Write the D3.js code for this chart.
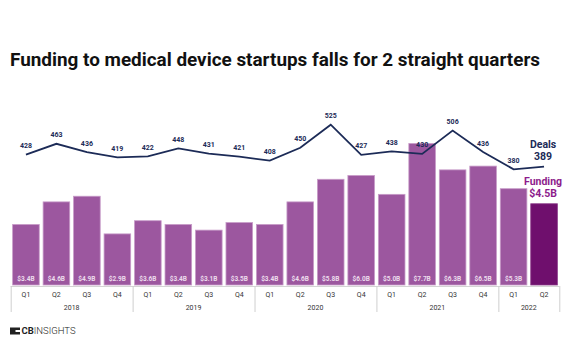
<!DOCTYPE html>
<html>
<head>
<meta charset="utf-8">
<script src="https://cdn.jsdelivr.net/npm/d3@7"></script>
<style>
  body { margin: 0; background: #fff; }
  svg { font-family: Roboto, "Noto Sans", sans-serif; }
</style>
</head>
<body>
<div id="chart"></div>
<script>
var svgWidth = 572;
var svgHeight = 364;

// data
var quarters = ["Q1","Q2","Q3","Q4","Q1","Q2","Q3","Q4","Q1","Q2","Q3","Q4","Q1","Q2","Q3","Q4","Q1","Q2"];
var years = ["2018","2019","2020","2021","2022"];
var yearSizes = [4, 4, 4, 4, 2];
var funding = [3.4, 4.6, 4.9, 2.9, 3.6, 3.4, 3.1, 3.5, 3.4, 4.6, 5.8, 6.0, 5.0, 7.7, 6.3, 6.5, 5.3, 4.5];
var deals = [428, 463, 436, 419, 422, 448, 431, 421, 408, 450, 525, 427, 438, 430, 506, 436, 380, 389];

var barColor = "#9c579f";
var lastColor = "#6f0f6d";
var lineColor = "#1c2b57";
var baseline = 285;

var svg = d3.select("#chart")
  .append("svg")
  .attr("width", svgWidth)
  .attr("height", svgHeight);

// title
svg.append("text")
  .attr("x", 10)
  .attr("y", 66)
  .style("font-size", "18.9px")
  .style("font-weight", "bold")
  .attr("fill", "#111")
  .text("Funding to medical device startups falls for 2 straight quarters");

var idx = d3.range(funding.length);

var x = d3.scaleBand()
  .domain(idx)
  .range([10.7, 559.3])
  .paddingInner(0.127)
  .paddingOuter(0.0635);

var yFund = d3.scaleLinear().domain([0, 8]).range([288.5, 288.5 - 8 * 18.83]);
var yDeals = d3.scaleLinear().domain([0, 600]).range([286.2, 286.2 - 600 * 0.3076]);

// bars
svg.append("g").selectAll("rect")
  .data(funding)
  .enter()
  .append("rect")
  .attr("x", (d, i) => x(i))
  .attr("y", d => yFund(d))
  .attr("width", x.bandwidth())
  .attr("height", d => baseline - yFund(d))
  .attr("fill", (d, i) => i == funding.length - 1 ? lastColor : barColor)
  .attr("stroke", (d, i) => i == funding.length - 1 ? "#8a3a88" : "#c79bc8")
  .attr("stroke-width", 0.8);

// value labels inside bars (not on the last one)
svg.append("g").selectAll("text")
  .data(funding.slice(0, -1))
  .enter()
  .append("text")
  .attr("x", (d, i) => x(i) + x.bandwidth() / 2)
  .attr("y", 281)
  .attr("text-anchor", "middle")
  .style("font-size", "6.5px")
  .style("font-weight", "bold")
  .attr("fill", "#ecdcec")
  .text(d => "$" + d.toFixed(1) + "B");

// deals line
var line = d3.line()
  .x((d, i) => x(i) + x.bandwidth() / 2)
  .y(d => yDeals(d));

svg.append("path")
  .datum(deals)
  .attr("d", line)
  .attr("fill", "none")
  .attr("stroke", lineColor)
  .attr("stroke-width", 1.8);

svg.append("g").selectAll("text")
  .data(deals.slice(0, -1))
  .enter()
  .append("text")
  .attr("x", (d, i) => x(i) + x.bandwidth() / 2)
  .attr("y", d => yDeals(d) - 9)
  .attr("dy", "0.35em")
  .attr("text-anchor", "middle")
  .style("font-size", "7px")
  .style("font-weight", "bold")
  .attr("fill", lineColor)
  .text(d => d);

// end labels
var last = funding.length - 1;
var lx = x(last) + x.bandwidth() / 2 - 1;
var endLabels = [
  {t: "Deals", y: 144, c: lineColor},
  {t: String(deals[last]), y: 156, c: lineColor},
  {t: "Funding", y: 181, c: "#8d1c8c"},
  {t: "$" + funding[last].toFixed(1) + "B", y: 193, c: "#8d1c8c"}
];
svg.append("g").selectAll("text")
  .data(endLabels)
  .enter()
  .append("text")
  .attr("x", lx)
  .attr("y", d => d.y)
  .attr("dy", "0.35em")
  .attr("text-anchor", "middle")
  .style("font-size", "10.5px")
  .style("font-weight", "bold")
  .attr("fill", d => d.c)
  .text(d => d.t);

// category axis: quarters + years
var axisG = svg.append("g");
axisG.append("line")
  .attr("x1", x.range()[0]).attr("x2", x.range()[1])
  .attr("y1", 286.5).attr("y2", 286.5)
  .attr("stroke", "#d4d4d4");

axisG.selectAll(".q")
  .data(quarters)
  .enter()
  .append("text")
  .attr("x", (d, i) => x(i) + x.bandwidth() / 2)
  .attr("y", 294.5)
  .attr("dy", "0.35em")
  .attr("text-anchor", "middle")
  .style("font-size", "7px")
  .attr("fill", "#333")
  .text(d => d);

var starts = [0];
yearSizes.forEach((n, i) => starts.push(starts[i] + n));
var step = x.step();
var x0 = x.range()[0];

axisG.selectAll(".sep")
  .data(starts)
  .enter()
  .append("line")
  .attr("x1", d => x0 + d * step + 0.5)
  .attr("x2", d => x0 + d * step + 0.5)
  .attr("y1", 286)
  .attr("y2", 312)
  .attr("stroke", "#cfcfcf");

axisG.selectAll(".yr")
  .data(years)
  .enter()
  .append("text")
  .attr("x", (d, i) => x0 + (starts[i] + yearSizes[i] / 2) * step)
  .attr("y", 307.5)
  .attr("dy", "0.35em")
  .attr("text-anchor", "middle")
  .style("font-size", "7px")
  .attr("fill", "#333")
  .text(d => d);

// CB Insights logo
var logo = svg.append("g").attr("transform", "translate(10, 331)");
logo.append("rect").attr("x", 0).attr("y", -3.5).attr("width", 10).attr("height", 7).attr("fill", "#222");
logo.append("rect").attr("x", 5.5).attr("y", -1).attr("width", 4.5).attr("height", 2).attr("fill", "#fff");
var lt = logo.append("text")
  .attr("x", 11.5)
  .attr("y", 0)
  .attr("dy", "0.35em")
  .style("font-size", "9.5px")
  .attr("fill", "#222");
lt.append("tspan").style("font-weight", "bold").text("CB");
lt.append("tspan").style("font-weight", "300").text("INSIGHTS");
</script>
</body>
</html>
